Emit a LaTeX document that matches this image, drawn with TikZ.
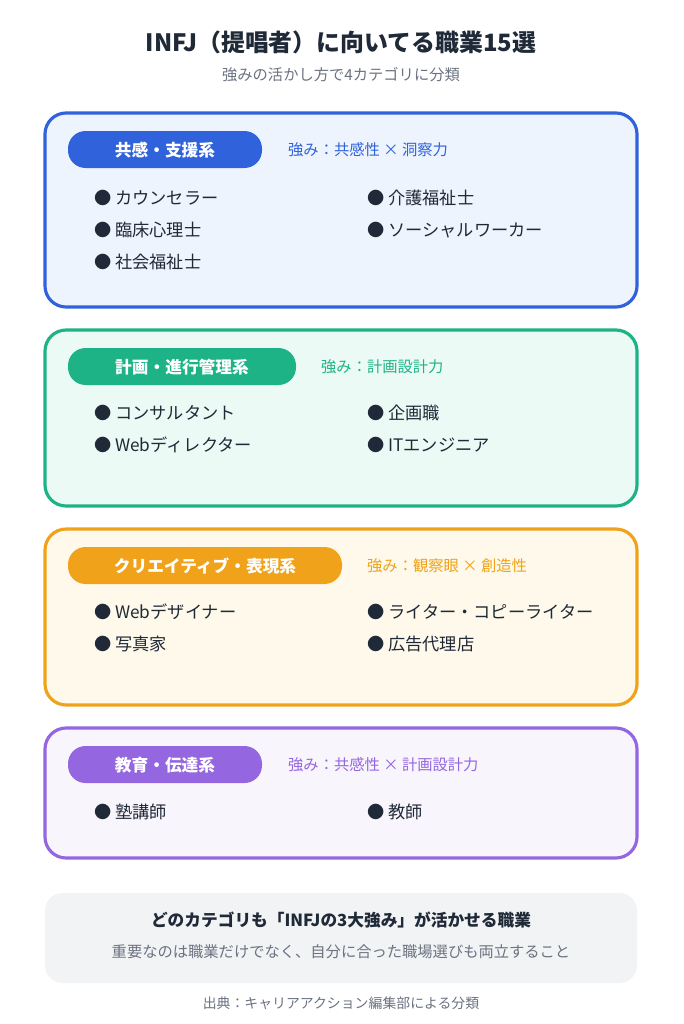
\documentclass[tikz,border=0pt]{standalone}
\usepackage{fontspec}
\setmainfont{Noto Sans CJK JP}
\definecolor{ink}{HTML}{1F2937}
\definecolor{mute}{HTML}{6B7280}
\definecolor{cblue}{HTML}{2F62DB}
\definecolor{fblue}{HTML}{EEF4FD}
\definecolor{cgreen}{HTML}{1DB386}
\definecolor{fgreen}{HTML}{ECFAF5}
\definecolor{corange}{HTML}{F0A31A}
\definecolor{forange}{HTML}{FEF9EA}
\definecolor{cpurple}{HTML}{9466E0}
\definecolor{fpurple}{HTML}{F9F5FD}
\definecolor{fgray}{HTML}{F2F3F5}
\tikzset{
  catbox/.style={line width=1.8pt, rounded corners=12},
  pill/.style={rounded corners=10pt, text=white, font=\fontsize{9.5}{11}\selectfont\bfseries},
  strength/.style={anchor=west, font=\fontsize{8.7}{10}\selectfont},
  job/.style={anchor=west, text=ink, font=\fontsize{9.8}{12}\selectfont},
}
\newcommand{\jobitem}[3]{\node[job] (#1) at #2 {● #3};}
\begin{document}
\begin{tikzpicture}[x=0.02cm, y=-0.02cm]
  \useasboundingbox (0,0) rectangle (683,1024);

  % title
  \node[text=ink, font=\fontsize{13.6}{16}\selectfont\bfseries] (title) at (341,42) {INFJ（提唱者）に向いてる職業15選};
  \node[text=mute, font=\fontsize{8.7}{10}\selectfont] (subtitle) at (341,75) {強みの活かし方で4カテゴリに分類};

  % empathy
  \draw[catbox, draw=cblue, fill=fblue] (45,113) rectangle (637,307);
  \fill[pill, cblue] (68,131) rectangle (262,168);
  \node[pill] (p1) at (165,150) {共感・支援系};
  \node[strength, text=cblue] (s1) at (282,150) {強み：共感性 × 洞察力};
  \jobitem{a1}{(88,198)}{カウンセラー}
  \jobitem{a2}{(88,230)}{臨床心理士}
  \jobitem{a3}{(88,262)}{社会福祉士}
  \jobitem{a4}{(361,198)}{介護福祉士}
  \jobitem{a5}{(361,230)}{ソーシャルワーカー}

  % planning
  \draw[catbox, draw=cgreen, fill=fgreen] (45,330) rectangle (637,506);
  \fill[pill, cgreen] (68,348) rectangle (296,385);
  \node[pill] (p2) at (182,367) {計画・進行管理系};
  \node[strength, text=cgreen] (s2) at (315,367) {強み：計画設計力};
  \jobitem{b1}{(88,413)}{コンサルタント}
  \jobitem{b2}{(88,445)}{Webディレクター}
  \jobitem{b3}{(361,413)}{企画職}
  \jobitem{b4}{(361,445)}{ITエンジニア}

  % creative
  \draw[catbox, draw=corange, fill=forange] (45,529) rectangle (637,705);
  \fill[pill, corange] (68,547) rectangle (342,584);
  \node[pill] (p3) at (205,566) {クリエイティブ・表現系};
  \node[strength, text=corange] (s3) at (361,566) {強み：観察眼 × 創造性};
  \jobitem{c1}{(88,612)}{Webデザイナー}
  \jobitem{c2}{(88,644)}{写真家}
  \jobitem{c3}{(361,612)}{ライター・コピーライター}
  \jobitem{c4}{(361,644)}{広告代理店}

  % education
  \draw[catbox, draw=cpurple, fill=fpurple] (45,728) rectangle (637,858);
  \fill[pill, cpurple] (68,746) rectangle (262,783);
  \node[pill] (p4) at (165,765) {教育・伝達系};
  \node[strength, text=cpurple] (s4) at (282,765) {強み：共感性 × 計画設計力};
  \jobitem{d1}{(88,812)}{塾講師}
  \jobitem{d2}{(361,812)}{教師}

  % summary
  \fill[fgray, rounded corners=10] (45,893) rectangle (637,983);
  \node[text=ink, font=\fontsize{9.5}{11}\selectfont\bfseries] (sum1) at (341,920) {どのカテゴリも「INFJの3大強み」が活かせる職業};
  \node[text=mute, font=\fontsize{8.7}{10}\selectfont] (sum2) at (341,952) {重要なのは職業だけでなく、自分に合った職場選びも両立すること};
  \node[text=mute, font=\fontsize{7.9}{9}\selectfont] (src) at (341,1003) {出典：キャリアアクション編集部による分類};
\end{tikzpicture}
\end{document}
